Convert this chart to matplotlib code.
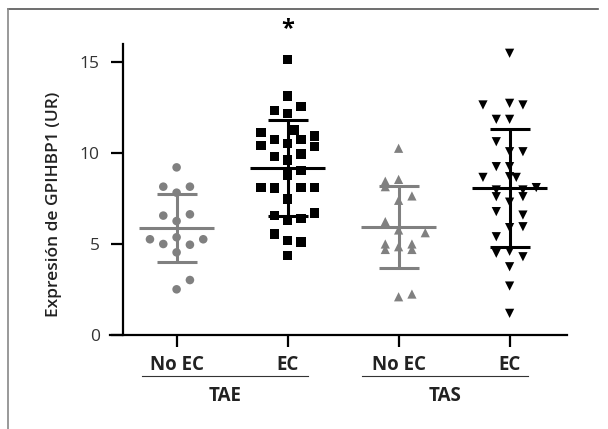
import matplotlib
matplotlib.use("Agg")
import matplotlib.pyplot as plt
from matplotlib.lines import Line2D
import numpy as np

plt.rcParams['font.family'] = ['Open Sans', 'DejaVu Sans']

# ---- data ----
categories = ["No EC", "EC", "No EC", "EC"]
groups = ["TAE", "TAS"]
yticks = [0, 5, 10, 15]

no_ec_tae = [9.21, 8.15, 8.15, 7.82, 6.56, 6.63, 6.26, 5.26, 5.0, 5.37, 4.96, 5.26, 4.54, 3.02, 2.51]
no_ec_tae_cols = [0, -1, 1, 0, -1, 1, 0, -2, -1, 0, 1, 2, 0, 1, 0]

ec_tae = [15.15, 13.13, 12.32, 12.54, 12.18, 11.12, 11.26, 10.75, 10.75, 10.93, 10.35, 10.4,
          10.53, 9.80, 9.95, 9.62, 9.03, 8.79, 8.12, 8.08, 8.12, 8.12, 7.48, 6.55, 6.32,
          6.41, 6.7, 5.55, 5.2, 5.1, 4.37]
ec_tae_cols = [0, 0, -1, 1, 0, -2, 0.5, -1, 1, 2, 2, -2,
               0, -1, 1, 0, 1, 0, -2, -1, 1, 2, 0, -1, 0,
               1, 2, -1, 0, 1, 0]

no_ec_tas = [10.26, 8.45, 8.15, 8.55, 7.64, 7.4, 6.23, 5.77, 5.62, 5.0, 4.7, 5.0, 4.7, 4.85, 2.1, 2.25]
no_ec_tas_cols = [0, -1, -1, 0, 1, 0, -1, 0, 2, -1, -1, 1, 1, 0, 0, 1]

ec_tas = [15.48, 12.64, 12.73, 12.64, 11.85, 11.85, 10.62, 10.07, 10.07, 9.25, 9.25, 8.66,
          8.7, 8.66, 8.1, 7.97, 7.6, 7.97, 7.6, 7.3, 6.78, 6.59, 5.95, 5.9, 5.4, 4.49,
          4.3, 4.6, 3.75, 2.69, 1.19]
ec_tas_cols = [0, -2, 0, 1, -1, 0, -1, 0, 1, -1, 0, -2,
               0, 0.5, 2, -1, -1, 1, 1, 0, -1, 1, 1, 0, -1, -1,
               1, 0, 0, 0, 0]

means = [5.87, 9.16, 5.95, 8.06]
sds = [1.86, 2.63, 2.25, 3.24]

# ---- figure ----
W, H = 608, 429
fig = plt.figure(figsize=(W / 100, H / 100), dpi=100)
ax = fig.add_axes([110 / W, (H - 335) / H, 457 / W, 291.2 / H])

gray = "#808080"
series = [
    (no_ec_tae, no_ec_tae_cols, "o", gray, 38),
    (ec_tae, ec_tae_cols, "s", "black", 46),
    (no_ec_tas, no_ec_tas_cols, "^", gray, 44),
    (ec_tas, ec_tas_cols, "v", "black", 44),
]
step = 0.12
for i, (vals, cols, mk, col, s) in enumerate(series):
    x = i + np.array(cols) * step
    ax.scatter(x, vals, marker=mk, s=s, color=col, edgecolors='none', zorder=3)
    m, sd = means[i], sds[i]
    lw = 2.2
    ax.plot([i - 0.34, i + 0.34], [m, m], color=col, lw=lw, zorder=4, solid_capstyle='butt')
    ax.plot([i, i], [m - sd, m + sd], color=col, lw=lw, zorder=4, solid_capstyle='butt')
    ax.plot([i - 0.18, i + 0.18], [m + sd, m + sd], color=col, lw=lw, zorder=4, solid_capstyle='butt')
    ax.plot([i - 0.18, i + 0.18], [m - sd, m - sd], color=col, lw=lw, zorder=4, solid_capstyle='butt')

ax.set_xlim(-0.6, 3.517)
ax.set_ylim(0, 16)
ax.spines['top'].set_visible(False)
ax.spines['right'].set_visible(False)
ax.spines['left'].set_position(('data', -0.486))
for sp in ['left', 'bottom']:
    ax.spines[sp].set_linewidth(1.6)
ax.set_yticks(yticks)
ax.set_yticklabels([str(t) for t in yticks], fontsize=12.5, color="#333333")
ax.set_xticks(range(len(categories)))
ax.set_xticklabels(categories, fontsize=13.5, fontweight='bold', color="#222222")
ax.tick_params(axis='both', length=8.5, width=1.6)
ax.tick_params(axis='y', pad=8)
ax.tick_params(axis='x', pad=6)
ax.patch.set_visible(False)

# group underlines and labels
for (x0, x1), g in zip([(-0.315, 1.183), (1.67, 3.165)], groups):
    ax.plot([x0, x1], [-2.25, -2.25], color="#333333", lw=0.8, clip_on=False)
    ax.text((x0 + x1) / 2, -3.35, g, ha='center', va='center', fontsize=13.5,
            fontweight='bold', color="#222222", clip_on=False)

# significance star
ax.text(1, 16.8, "*", ha='center', va='center', fontsize=17, fontweight='bold', clip_on=False)

# y label
fig.text(54 / W, 1 - 204 / H, "Expresión de GPIHBP1 (UR)", rotation=90, ha='center', va='center',
         fontsize=12.5, fontweight='semibold', color="#222222")

# outer border
fig.add_artist(Line2D([8 / W, 598 / W], [1 - 9 / H, 1 - 9 / H], color="#555555", lw=1.2))
fig.add_artist(Line2D([8 / W, 8 / W], [1 - 9 / H, 0], color="#888888", lw=1.2))

fig.savefig("out.png", dpi=100)
